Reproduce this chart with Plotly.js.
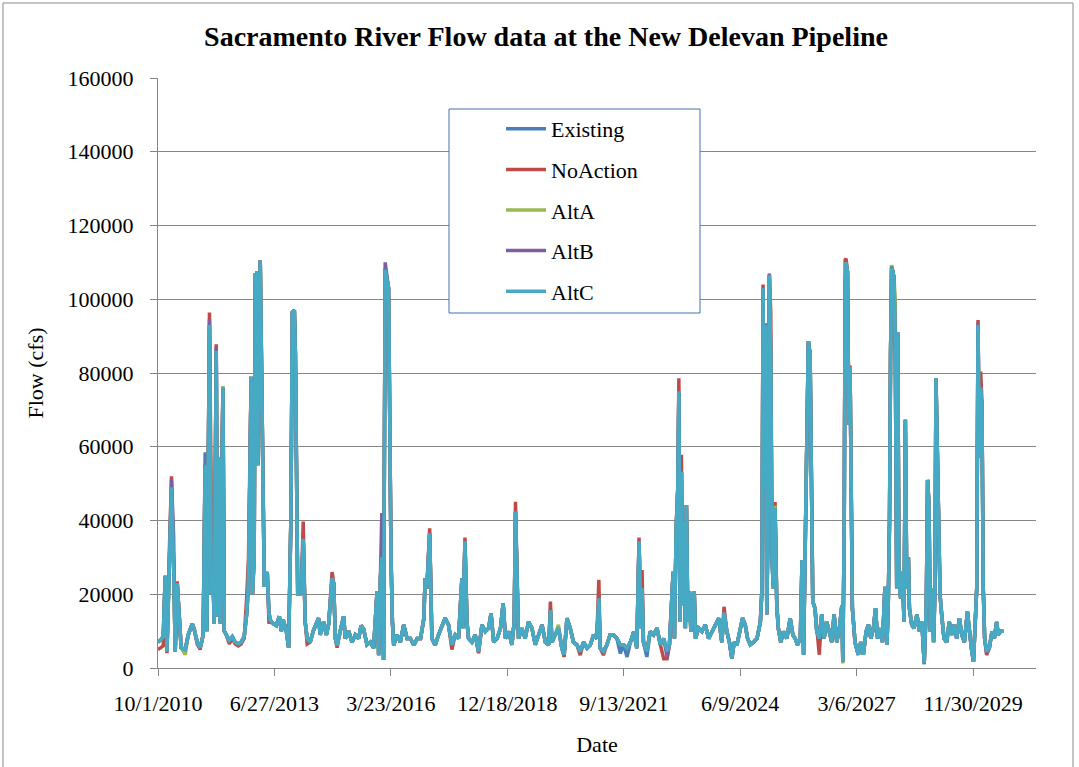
<!DOCTYPE html>
<html>
<head>
<meta charset="utf-8">
<script src="https://cdn.plot.ly/plotly-3.0.1.min.js"></script>
<style>
  html, body { margin: 0; padding: 0; background: #ffffff; }
  #chart { width: 1079px; height: 767px; }
</style>
</head>
<body>
<div id="chart"></div>
<script>
// ---------- data ----------
const dates = [
  "2010-10-01","2010-10-20","2010-11-15","2010-12-02","2010-12-17",
  "2011-01-05","2011-01-25","2011-02-12","2011-02-26","2011-03-15","2011-04-01","2011-04-18","2011-05-23","2011-06-18","2011-07-22","2011-08-08","2011-09-03","2011-09-28","2011-10-24","2011-11-10","2011-11-25","2011-12-17",
  "2012-01-01","2012-01-16","2012-01-27","2012-02-13","2012-02-25","2012-03-07","2012-03-18","2012-03-30","2012-04-11","2012-04-22","2012-05-09","2012-06-04","2012-06-30","2012-07-25","2012-08-20","2012-09-14","2012-10-10","2012-11-02","2012-11-16","2012-12-09","2012-12-20",
  "2013-01-04","2013-01-13","2013-01-22","2013-01-28","2013-02-06","2013-02-11","2013-02-19","2013-02-25","2013-03-08","2013-03-17","2013-04-01","2013-04-14","2013-04-26","2013-05-11","2013-05-22","2013-06-17","2013-07-13","2013-08-08","2013-08-25","2013-09-11","2013-10-07","2013-10-27","2013-11-15","2013-11-28","2013-12-15","2013-12-24",
  "2014-01-06","2014-01-13","2014-02-04","2014-02-12","2014-03-01","2014-03-18","2014-04-04","2014-04-30","2014-05-26","2014-06-21","2014-07-11","2014-07-25","2014-08-23","2014-09-16","2014-10-06","2014-11-04","2014-11-18","2014-12-02","2014-12-17",
  "2015-01-13","2015-02-11","2015-02-26","2015-03-26","2015-04-24","2015-05-22","2015-06-20","2015-07-11","2015-08-02","2015-08-31","2015-09-29","2015-10-27","2015-11-25","2015-12-09","2015-12-24",
  "2016-01-05","2016-01-20","2016-02-03","2016-03-03","2016-03-12","2016-03-24","2016-04-05","2016-04-16","2016-05-15","2016-06-12","2016-07-11","2016-08-09","2016-09-07","2016-10-06","2016-11-04","2016-12-03","2016-12-31",
  "2017-01-11","2017-01-26","2017-02-19","2017-03-10","2017-04-07","2017-05-06","2017-06-04","2017-07-02","2017-07-31","2017-08-29","2017-09-26","2017-10-25","2017-11-23","2017-12-02","2017-12-19",
  "2018-01-05","2018-01-19","2018-02-17","2018-03-17","2018-04-15","2018-05-14","2018-06-12","2018-07-10","2018-07-31","2018-08-23","2018-09-21","2018-10-20","2018-11-12","2018-12-02","2018-12-31",
  "2019-01-26","2019-02-15","2019-02-26","2019-03-15","2019-03-24","2019-04-22","2019-05-20","2019-06-18","2019-07-17","2019-08-15","2019-09-13","2019-10-12","2019-11-10","2019-12-09","2019-12-23",
  "2020-01-05","2020-02-02","2020-03-01","2020-03-30","2020-04-19","2020-05-13","2020-06-10","2020-07-08","2020-08-06","2020-09-04","2020-10-03","2020-11-01","2020-11-30","2020-12-28",
  "2021-01-24","2021-02-11","2021-02-22","2021-03-22","2021-04-21","2021-05-19","2021-06-17","2021-07-16","2021-08-14","2021-09-12","2021-10-11","2021-11-09","2021-12-08",
  "2022-01-03","2022-01-22","2022-02-06","2022-02-17","2022-03-01","2022-03-30","2022-04-28","2022-05-27","2022-06-25","2022-07-24","2022-08-22","2022-09-20","2022-10-10","2022-11-11","2022-11-22","2022-12-07","2022-12-21","2022-12-30",
  "2023-01-10","2023-01-21","2023-02-02","2023-02-13","2023-02-24","2023-03-05","2023-03-17","2023-03-31","2023-04-12","2023-05-11","2023-05-22","2023-06-17","2023-07-16","2023-08-14","2023-09-12","2023-10-11","2023-11-09","2023-12-08",
  "2024-01-03","2024-01-22","2024-02-15","2024-03-08","2024-03-29","2024-04-18","2024-05-12","2024-06-09","2024-06-29","2024-07-22","2024-08-11","2024-09-03","2024-10-02","2024-10-31","2024-11-29","2024-12-13","2024-12-22","2024-12-31",
  "2025-01-11","2025-01-23","2025-02-03","2025-02-14","2025-02-26","2025-03-09","2025-03-20","2025-04-04","2025-04-19","2025-05-02","2025-05-23","2025-06-15","2025-07-14","2025-08-12","2025-09-04","2025-09-24","2025-10-14","2025-11-07","2025-11-22","2025-12-05","2025-12-20",
  "2026-01-01","2026-01-15","2026-01-30","2026-02-10","2026-02-22","2026-03-13","2026-03-28","2026-04-19","2026-05-10","2026-05-30","2026-06-22","2026-07-14","2026-08-04","2026-08-24","2026-09-16","2026-10-09","2026-10-30","2026-11-07","2026-11-19","2026-11-27","2026-12-05","2026-12-17","2026-12-29",
  "2027-01-08","2027-01-19","2027-01-28","2027-02-20","2027-03-06","2027-03-20","2027-04-10","2027-05-02","2027-05-26","2027-06-15","2027-07-06","2027-07-28","2027-08-15","2027-09-01","2027-09-25","2027-10-14","2027-11-04","2027-11-21","2027-12-02","2027-12-13","2027-12-22","2027-12-31",
  "2028-01-10","2028-01-21","2028-02-01","2028-02-13","2028-02-22","2028-03-03","2028-03-18","2028-04-01","2028-04-16","2028-04-27","2028-05-09","2028-05-23","2028-06-01","2028-06-21","2028-07-11","2028-08-04","2028-08-26","2028-09-16","2028-10-06","2028-10-24","2028-11-04","2028-11-16","2028-11-27","2028-12-09","2028-12-26",
  "2029-01-06","2029-01-15","2029-01-26","2029-02-07","2029-02-19","2029-03-05","2029-03-25","2029-04-17","2029-05-09","2029-05-30","2029-06-19","2029-07-12","2029-08-04","2029-08-25","2029-09-16","2029-10-12","2029-10-29","2029-11-15","2029-12-03","2029-12-18","2029-12-31",
  "2030-01-11","2030-01-22","2030-02-03","2030-02-14","2030-02-25","2030-03-09","2030-03-26","2030-04-18","2030-05-11","2030-05-31","2030-06-20","2030-07-04","2030-07-25","2030-08-17"
];

const flowExisting = [
  7000,7500,8500,25000,4500,
  30000,49000,28000,4500,23000,12000,5500,5000,9000,12000,10500,7000,5500,9000,58500,10000,93000,
  20000,25000,12000,86000,14000,57000,12000,56000,76000,10000,9000,7500,8500,7000,6500,7000,8500,15000,23000,79000,20000,
  30000,107000,60000,107500,55000,106000,70000,110500,82000,55000,22000,25000,26000,15000,13000,12000,11500,14000,10000,13000,10000,5500,40000,96500,97000,85000,
  48700,20000,20000,20700,35000,12500,8000,7000,10000,12000,13500,9000,12500,9000,12000,24300,23000,8000,6200,
  10000,14000,8000,10000,7000,9000,8000,11500,10500,6300,7000,5400,20700,3500,24400,
  30000,2200,108500,103000,58000,30000,12500,6200,9000,7000,11700,8000,8000,6200,8000,8000,13500,
  24300,21600,36500,8000,6200,9000,11000,13500,11700,6300,9000,8000,24300,10800,34300,
  12500,8000,7000,9000,4500,11700,9900,10800,14800,7000,8000,10800,17500,8000,9900,
  6300,12500,42400,21600,8000,10800,8000,12500,10800,6300,9000,11700,7000,6300,15700,
  7000,9000,10800,5400,3600,13500,10800,7000,6300,4500,7000,5400,6300,9000,
  8000,18900,5400,4500,6300,9000,9000,8000,4000,6300,3000,7000,9900,
  5400,34300,10800,21600,7000,3000,9900,9000,10800,6300,8000,4500,6300,26100,8000,37900,48700,75000,
  12500,53200,17000,39700,10800,44200,12500,20700,9900,20700,8000,10800,9900,11700,8000,9900,11700,13500,
  7000,15000,9900,7000,2600,7000,6300,10800,13500,11700,8000,6300,7000,8000,12500,21600,103000,48700,
  93000,14500,39700,106600,84900,30000,21600,43300,17000,10800,7000,9900,8000,13500,9000,8000,6300,8000,29300,3600,32500,
  67500,88600,85000,39700,18000,16200,9900,8000,14500,8000,12500,9900,7000,14500,7000,10800,17000,1700,37900,103000,110000,107500,66000,
  81600,30000,16200,7000,5400,3600,7000,3600,9900,11700,8000,10800,16200,8000,10800,7000,22000,6300,17000,39700,85000,108500,
  107600,105700,85000,21600,91000,23400,18900,26100,12500,67300,21600,30000,16200,11700,10800,14500,10000,12500,1300,17000,51000,44200,9900,21600,7000,
  21600,78600,59700,48700,19800,14500,8000,7000,12500,9000,11700,8000,13500,9000,7000,15300,9900,5400,1700,12500,21600,
  93100,57000,76000,70000,21600,8000,4500,5400,9900,8000,12500,9000,10000,10000
];

const flowNoAction = [
  5000,5500,6000,25000,4000,
  30000,52000,28000,4500,23500,12000,5500,5000,9000,12000,10500,6500,5000,9000,55000,10000,96400,
  46000,25000,12000,87800,14000,57000,12000,56000,76000,10000,9000,6500,8000,6500,6000,6500,8000,20000,30000,79000,20000,
  30000,107000,60000,107500,55000,106000,70000,110500,82000,55000,22000,25000,26000,12000,13000,12000,11500,14000,10000,13000,10000,5500,40000,96500,97000,85000,
  48700,20000,20000,20700,39700,12500,6500,7000,10000,12000,13500,9000,12500,9000,12000,26000,23000,8000,5500,
  10000,14000,8000,10000,7000,9000,8000,11500,10500,6300,7000,5400,20700,3500,24400,
  30000,2200,108000,103000,58000,30000,12500,6200,9000,7000,11700,8000,8000,6200,8000,8000,13500,
  24300,21600,37900,8000,6200,9000,11000,13500,11700,5000,9000,8000,24300,10800,35400,
  12500,8000,7000,9000,4000,11700,9900,10800,14800,7000,8000,10800,17500,8000,9900,
  6300,12500,45100,21600,8000,10800,8000,12500,10800,6300,9000,11700,7000,6300,18000,
  7000,9000,10800,5400,3000,13500,10800,7000,6300,3500,7000,5400,6300,9000,
  8000,23900,5400,3500,6300,9000,9000,8000,6300,6300,5400,7000,9900,
  5400,35400,10800,26600,7000,4500,9900,9000,10800,6300,2500,2500,6300,26100,8000,37900,49000,78600,
  12500,57800,17000,39700,10800,44200,12500,20700,9900,20700,8000,10800,9900,11700,8000,9900,11700,13500,
  7000,16600,9900,7000,2600,7000,6300,10800,13500,11700,8000,6300,7000,8000,12500,21600,104000,48700,
  93000,14500,39700,106600,96600,30000,21600,45000,17000,10800,7000,9900,8000,13500,9000,8000,6300,8000,29300,3600,32500,
  66800,88600,85000,39700,18000,16200,9900,3600,14500,8000,12500,9900,7000,14500,7000,10800,17000,1700,37900,110700,111000,107500,66000,
  82000,30000,16200,7000,5400,3600,7000,3600,9900,11700,8000,10800,16200,8000,10800,7000,22000,6300,17000,39700,85000,108500,
  107600,105700,85000,21600,91000,23400,18900,26100,12500,67300,21600,30000,16200,11700,10800,14500,10000,12500,1300,17000,51000,44200,9900,21600,7000,
  21600,78600,59700,48700,19800,14500,8000,7000,12500,9000,11700,8000,13500,9000,7000,15300,9900,5400,1700,12500,21600,
  94400,57000,80400,72200,21600,8000,3500,5400,9900,8000,12500,9000,10000,10000
];

const flowAltA = [
  7000,7500,8500,25000,4500,
  30000,49000,28000,4500,23000,12000,5500,3600,9000,12000,10500,7000,5500,9000,55000,10000,93000,
  20000,25000,12000,86000,14000,57000,12000,56000,76500,10000,9000,7500,8500,7000,6500,7000,8500,15000,23000,79000,20000,
  30000,107000,60000,107500,55000,106000,70000,110500,82000,55000,22000,25000,26000,15000,13000,12000,11500,14000,10000,13000,10000,5500,40000,96500,97000,85000,
  48700,20000,20000,20700,35000,12500,8000,7000,10000,12000,13500,9000,12500,9000,12000,24300,23000,8000,6200,
  10000,14000,8000,10000,7000,9000,8000,11500,10500,6300,7000,5400,20700,3500,24400,
  30000,2200,108000,103000,58000,30000,12500,6200,9000,7000,11700,8000,8000,6200,8000,8000,13500,
  24300,21600,36500,8000,6200,9000,11000,13500,11700,6300,9000,8000,24300,10800,34300,
  12500,8000,7000,9000,4500,11700,9900,10800,14800,7000,8000,10800,17500,8000,9900,
  6300,12500,42400,21600,8000,10800,8000,12500,10800,6300,9000,11700,7000,6300,15700,
  7000,9000,11700,5400,3600,13500,10800,7000,6300,4500,7000,5400,6300,9000,
  8000,18900,5400,4500,6300,9000,9000,8000,6300,6300,5400,7000,9900,
  5400,34300,10800,21600,7000,4500,9900,9000,10800,6300,8000,4500,6300,26100,8000,37900,48700,75000,
  12500,53200,17000,39700,10800,44200,12500,20700,9900,20700,8000,10800,9900,11700,8000,9900,11700,13500,
  7000,15000,9900,7000,2600,7000,6300,10800,13500,11700,8000,6300,7000,8000,12500,21600,103000,48700,
  93000,14500,39700,106600,84900,30000,21600,44000,17000,10800,7000,9900,8000,13500,9000,8000,6300,8000,29300,3600,32500,
  66800,88600,85000,39700,18000,16200,9900,8000,14500,8000,12500,9900,7000,14500,7000,10800,17000,1200,37900,103000,110000,107500,66000,
  81600,30000,16200,7000,5400,3600,7000,3600,9900,11700,8000,10800,16200,8000,10800,7000,22000,6300,17000,39700,85000,109300,
  107600,105700,99400,21600,91000,23400,18900,26100,12500,67300,21600,30000,16200,11700,10800,14500,10000,12500,1300,17000,51000,44200,9900,21600,7000,
  21600,78600,59700,48700,19800,14500,8000,7000,12500,9000,11700,8000,13500,9000,7000,15300,9900,5400,1700,12500,21600,
  93100,57000,76000,70000,21600,8000,4500,5400,9900,8000,12500,9000,10000,10000
];

const flowAltB = [
  7000,7500,8500,25000,4500,
  30000,51000,36000,4500,23000,12000,5500,5000,9000,12000,10500,7000,5500,9000,55000,10000,94500,
  20000,25000,12000,87000,14000,57000,12500,56000,76000,10000,9000,7500,8500,7000,6500,7000,8500,15000,23000,79000,20000,
  30000,107000,60000,107500,55000,106000,70000,110500,82000,55000,22000,25000,26000,15000,13000,12000,11500,14000,10000,13000,10000,5500,40000,96500,97000,85000,
  48700,20000,20000,20700,35000,12500,8000,7000,10000,12000,13500,9000,12500,9000,12000,24300,23000,8000,6200,
  10000,14000,8000,10000,7000,9000,8000,11500,10500,6300,7000,5400,20700,3500,24400,
  42000,2200,110000,103000,58000,30000,12500,6200,9000,7000,11700,8000,8000,6200,8000,8000,13500,
  24300,21600,36500,8000,6200,9000,11000,13500,11700,6300,9000,8000,24300,10800,34300,
  12500,8000,7000,9000,4500,11700,9900,10800,14800,7000,8000,10800,17500,8000,9900,
  6300,12500,42400,21600,8000,10800,8000,12500,10800,6300,9000,11700,7000,6300,15700,
  7000,9000,10800,5400,3600,13500,10800,7000,6300,4500,7000,5400,6300,9000,
  8000,18900,5400,4500,6300,9000,9000,8000,6300,6300,5400,7000,9900,
  5400,34300,10800,21600,7000,4500,9900,9000,10800,6300,8000,3000,6300,26100,8000,37900,48700,75000,
  12500,53200,17000,39700,10800,44200,12500,20700,9900,20700,8000,10800,9900,11700,8000,9900,11700,13500,
  7000,15000,9900,7000,2600,7000,6300,10800,13500,11700,8000,6300,7000,8000,12500,21600,103000,48700,
  93500,14500,39700,107000,84900,30000,21600,43300,17000,10800,7000,9900,8000,13500,9000,8000,6300,8000,29300,3600,32500,
  66800,88600,85000,39700,18000,16200,9900,8000,14500,8000,12500,9900,7000,14500,7000,10800,17000,1700,37900,103000,109000,107500,66000,
  81600,30000,16200,7000,5400,3600,7000,3600,9900,11700,8000,10800,16200,8000,10800,7000,22000,6300,17000,39700,85000,108800,
  107600,105700,85000,21600,91000,23400,18900,26100,12500,67300,21600,30000,16200,11700,10800,14500,10000,12500,1000,17000,51000,44200,9900,21600,7000,
  21600,78600,59700,48700,19800,14500,8000,7000,12500,9000,11700,8000,13500,9000,7000,15300,9900,5400,1700,12500,21600,
  93600,57000,76000,70000,21600,8000,4000,5400,9900,8000,12500,9000,10000,10000
];

const flowAltC = [
  7000,7500,8500,25000,4500,
  30000,49000,28000,4500,23000,12000,5500,5000,9000,12000,10500,7000,5500,9000,55000,10000,93000,
  20000,25000,12000,86000,14000,57000,12000,56000,76000,10000,9000,7500,8500,7000,6500,7000,8500,15000,23000,79000,20000,
  30000,107000,60000,107500,55000,106000,70000,110500,82000,55000,22000,25000,26000,15000,13000,12000,11500,14000,10000,13000,10000,5500,40000,96500,97000,85000,
  48700,20000,20000,20700,35000,12500,8000,7000,10000,12000,13500,9000,12500,9000,12000,24300,23000,8000,6200,
  10000,14000,8000,10000,7000,9000,8000,11500,10500,6300,7000,5400,20700,3500,24400,
  30000,2200,108000,103000,58000,30000,12500,6200,9000,7000,11700,8000,8000,6200,8000,8000,13500,
  24300,21600,36500,8000,6200,9000,11000,13500,11700,6300,9000,8000,24300,10800,34300,
  12500,8000,7000,9000,4500,11700,9900,10800,14800,7000,8000,10800,17500,8000,9900,
  6300,12500,42400,21600,8000,10800,8000,12500,10800,6300,9000,11700,7000,6300,15700,
  7000,9000,10800,5400,3600,13500,10800,7000,6300,4500,7000,5400,6300,9000,
  8000,18900,5400,4500,6300,9000,9000,8000,6300,6300,5400,7000,9900,
  5400,34300,10800,21600,7000,4500,9900,9000,10800,6300,8000,4500,6300,26100,8000,37900,48700,75000,
  12500,53200,17000,39700,10800,44200,12500,20700,9900,20700,8000,10800,9900,11700,8000,9900,11700,13500,
  7000,15000,9900,7000,2600,7000,6300,10800,13500,11700,8000,6300,7000,8000,12500,21600,103000,48700,
  93000,14500,39700,106600,84900,30000,21600,43300,17000,10800,7000,9900,8000,13500,9000,8000,6300,8000,29300,3600,32500,
  66800,88600,85000,39700,18000,16200,9900,8000,14500,8000,12500,9900,7000,14500,7000,10800,17000,1700,37900,103000,110000,107500,66000,
  81600,30000,16200,7000,5400,3600,7000,3600,9900,11700,8000,10800,16200,8000,10800,7000,22000,6300,17000,39700,85000,108500,
  107600,105700,85000,21600,91000,23400,18900,26100,12500,67300,21600,30000,16200,11700,10800,14500,10000,12500,1300,17000,51000,44200,9900,21600,7000,
  21600,78600,59700,48700,19800,14500,8000,7000,12500,9000,11700,8000,13500,9000,7000,15300,9900,5400,1700,12500,21600,
  93100,57000,76000,70000,21600,8000,4500,5400,9900,8000,12500,9000,10000,10000
];

const seriesNames = ["Existing", "NoAction", "AltA", "AltB", "AltC"];
const seriesColors = ["#4a7ebb", "#be4b48", "#98b954", "#7d60a0", "#46aac5"];
const seriesValues = [flowExisting, flowNoAction, flowAltA, flowAltB, flowAltC];

// ---------- figure ----------
const traces = seriesNames.map((name, i) => ({
  type: "scatter",
  mode: "lines",
  name: name,
  legendgroup: name,
  x: dates,
  y: seriesValues[i],
  line: { color: seriesColors[i], width: 3.5 },
  hoverinfo: "x+y+name"
}));

const L = 158, R = 1036, T = 78, B = 668;
const px = v => (v - L) / (R - L);
const py = v => (B - v) / (B - T);

const layout = {
  width: 1079,
  height: 767,
  margin: { l: L, r: 1079 - R, t: T, b: 767 - B, pad: 0 },
  paper_bgcolor: "#ffffff",
  plot_bgcolor: "#ffffff",
  font: { family: '"Liberation Serif", "Times New Roman", serif', size: 22, color: "#000000" },
  showlegend: true,
  title: {
    text: "<b>Sacramento River Flow data at the New Delevan Pipeline</b>",
    font: { size: 28, color: "#000000" },
    xref: "container", x: 546 / 1079, xanchor: "center",
    yref: "container", y: 1 - 36 / 767, yanchor: "middle"
  },
  xaxis: {
    type: "date",
    range: ["2010-10-01", "2031-05-24"],
    tick0: "2010-10-01",
    dtick: 1000 * 86400000,
    tickformat: "%-m/%-d/%Y",
    ticks: "outside", ticklen: 7, tickwidth: 1, tickcolor: "#868686",
    showline: true, linecolor: "#868686", linewidth: 1,
    showgrid: false, zeroline: false,
    ticklabelstandoff: 9,
    tickfont: { size: 22 },
    title: { text: "Date", font: { size: 22 }, standoff: 21 }
  },
  yaxis: {
    range: [0, 160000],
    tick0: 0, dtick: 20000,
    tickformat: "d",
    ticks: "outside", ticklen: 7, tickwidth: 1, tickcolor: "#868686",
    showline: true, linecolor: "#868686", linewidth: 1,
    showgrid: true, gridcolor: "#868686", gridwidth: 1,
    zeroline: false,
    ticklabelstandoff: 12,
    tickfont: { size: 22 },
    title: { text: "Flow (cfs)", font: { size: 22 }, standoff: 17 }
  },
  legend: {
    x: px(501), xanchor: "left",
    y: py(108), yanchor: "top",
    bgcolor: "rgba(0,0,0,0)",
    borderwidth: 0,
    font: { size: 22, color: "#000000" },
    tracegroupgap: 9,
    itemwidth: 40,
    traceorder: "grouped"
  },
  shapes: [
    { type: "rect", xref: "paper", yref: "paper", layer: "above",
      x0: px(449), x1: px(700), y0: py(313), y1: py(109),
      line: { color: "#3f72b5", width: 1 }, fillcolor: "#ffffff" },
    { type: "rect", xref: "paper", yref: "paper", layer: "below",
      x0: px(3), x1: px(1073), y0: py(775), y1: py(3),
      line: { color: "#8a8a8a", width: 1 }, fillcolor: "rgba(0,0,0,0)" }
  ]
};

Plotly.newPlot("chart", traces, layout, { displayModeBar: false, staticPlot: true });
</script>
</body>
</html>
